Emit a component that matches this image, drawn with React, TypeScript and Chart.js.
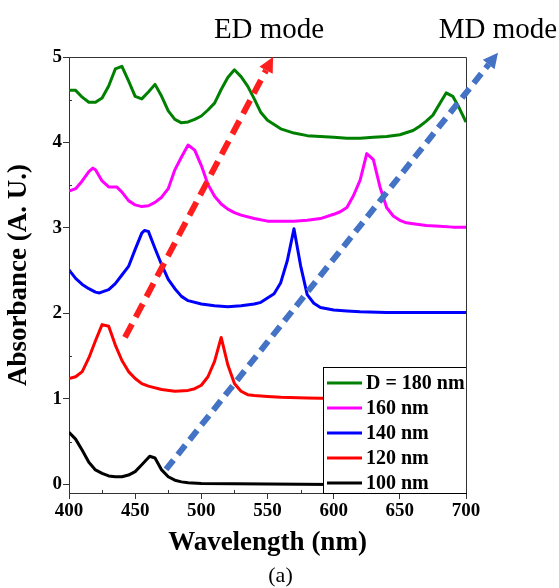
import React, { useEffect, useRef } from "react";
import { Chart, registerables } from "chart.js";

Chart.register(...registerables);

// ---- data ----
const W180 = [400, 405, 410, 415, 420, 425, 430, 435, 440, 445, 450, 455, 460, 465, 470, 475, 480, 485, 490, 495, 500, 505, 510, 515, 520, 525, 530, 535, 540, 545, 550, 555, 560, 570, 580, 590, 600, 610, 620, 630, 640, 650, 660, 665, 670, 675, 680, 685, 690, 695, 700];
const A180 = [4.61, 4.61, 4.53, 4.47, 4.47, 4.52, 4.66, 4.86, 4.89, 4.72, 4.54, 4.51, 4.59, 4.68, 4.54, 4.37, 4.27, 4.23, 4.24, 4.27, 4.31, 4.38, 4.46, 4.62, 4.76, 4.85, 4.77, 4.66, 4.51, 4.35, 4.26, 4.21, 4.16, 4.11, 4.08, 4.07, 4.06, 4.05, 4.05, 4.06, 4.07, 4.09, 4.14, 4.19, 4.25, 4.32, 4.45, 4.58, 4.54, 4.40, 4.24];

const W160 = [400, 405, 410, 415, 418, 420, 425, 430, 436, 440, 445, 450, 455, 460, 465, 470, 475, 480, 485, 490, 495, 500, 505, 510, 515, 520, 525, 530, 540, 550, 560, 570, 580, 590, 600, 605, 610, 615, 620, 625, 630, 635, 640, 645, 650, 655, 660, 670, 680, 690, 700];
const A160 = [3.43, 3.46, 3.55, 3.66, 3.70, 3.68, 3.55, 3.48, 3.48, 3.42, 3.32, 3.27, 3.25, 3.26, 3.30, 3.36, 3.46, 3.68, 3.83, 3.97, 3.91, 3.73, 3.51, 3.37, 3.28, 3.22, 3.18, 3.15, 3.11, 3.08, 3.08, 3.08, 3.09, 3.11, 3.16, 3.19, 3.24, 3.38, 3.56, 3.87, 3.80, 3.48, 3.24, 3.14, 3.09, 3.06, 3.05, 3.03, 3.02, 3.01, 3.01];

const W140 = [400, 405, 410, 415, 420, 423, 430, 435, 440, 445, 450, 455, 457, 460, 465, 470, 475, 480, 485, 490, 500, 510, 520, 530, 540, 545, 550, 555, 560, 565, 570, 575, 580, 585, 590, 600, 610, 620, 640, 670, 700];
const A140 = [2.51, 2.41, 2.34, 2.29, 2.25, 2.24, 2.28, 2.35, 2.45, 2.55, 2.75, 2.94, 2.97, 2.96, 2.76, 2.57, 2.40, 2.29, 2.20, 2.15, 2.11, 2.09, 2.08, 2.09, 2.11, 2.13, 2.18, 2.23, 2.36, 2.62, 2.99, 2.56, 2.22, 2.12, 2.07, 2.04, 2.03, 2.02, 2.01, 2.01, 2.01];

const W120 = [400, 405, 410, 415, 420, 425, 430, 435, 440, 445, 450, 455, 460, 470, 480, 490, 495, 500, 505, 510, 515, 520, 525, 530, 535, 540, 550, 560, 580, 620, 700];
const A120 = [1.24, 1.26, 1.32, 1.48, 1.68, 1.87, 1.85, 1.63, 1.45, 1.32, 1.24, 1.18, 1.15, 1.11, 1.09, 1.10, 1.12, 1.16, 1.26, 1.44, 1.72, 1.40, 1.18, 1.09, 1.05, 1.04, 1.03, 1.02, 1.01, 1.00, 1.00];

const W100 = [400, 405, 410, 415, 420, 425, 430, 435, 440, 445, 450, 455, 461, 465, 470, 475, 480, 485, 490, 500, 550, 600, 700];
const A100 = [0.61, 0.53, 0.40, 0.26, 0.17, 0.13, 0.10, 0.09, 0.09, 0.11, 0.15, 0.23, 0.33, 0.31, 0.17, 0.09, 0.05, 0.03, 0.02, 0.01, 0.005, 0.0, 0.0];

const SERIES_LABELS = ["D = 180 nm", "160 nm", "140 nm", "120 nm", "100 nm"];
const SERIES_COLORS = ["#008000", "#FF00FF", "#0000FF", "#FF0000", "#000000"];

// arrow annotations, in data units [wavelength, absorbance]
const ED_ARROW = [[442.3, 1.72], [554.2, 5.0]];
const MD_ARROW = [[473.3, 0.175], [724.2, 5.05]];
const ED_LABEL = "ED mode";
const MD_LABEL = "MD mode";
const PANEL_LABEL = "(a)";

const X_TITLE = "Wavelength (nm)";
const Y_TITLE = "Absorbance (A. U.)";

const SERIF = "'Liberation Serif', 'Times New Roman', serif";

const pts = (xs: number[], ys: number[]) => xs.map((x, i) => ({ x, y: ys[i] }));

const framePlugin = {
  id: "frame",
  afterDraw(chart: any) {
    const { ctx, chartArea: a, scales } = chart;
    ctx.save();
    // minor ticks, inside
    ctx.strokeStyle = "#333";
    ctx.lineWidth = 1;
    const xs = scales.x.ticks.map((t: any) => t.value);
    for (let i = 0; i < xs.length - 1; i++) {
      const px = Math.round(scales.x.getPixelForValue((xs[i] + xs[i + 1]) / 2)) + 0.5;
      ctx.beginPath();
      ctx.moveTo(px, a.bottom);
      ctx.lineTo(px, a.bottom - 3);
      ctx.stroke();
    }
    const ys = scales.y.ticks.map((t: any) => t.value);
    for (let i = 0; i < ys.length - 1; i++) {
      const py = Math.round(scales.y.getPixelForValue((ys[i] + ys[i + 1]) / 2)) + 0.5;
      ctx.beginPath();
      ctx.moveTo(a.left, py);
      ctx.lineTo(a.left + 3, py);
      ctx.stroke();
    }
    ctx.restore();
  },
};

function drawArrow(ctx: any, x0: number, y0: number, x1: number, y1: number, color: string, dash: number[], lw: number, headLen: number, headW: number) {
  const ang = Math.atan2(y1 - y0, x1 - x0);
  const bx = x1 - Math.cos(ang) * headLen;
  const by = y1 - Math.sin(ang) * headLen;
  ctx.save();
  ctx.strokeStyle = color;
  ctx.fillStyle = color;
  ctx.lineWidth = lw;
  ctx.setLineDash(dash);
  ctx.beginPath();
  ctx.moveTo(x0, y0);
  ctx.lineTo(bx, by);
  ctx.stroke();
  ctx.setLineDash([]);
  ctx.beginPath();
  ctx.moveTo(x1, y1);
  ctx.lineTo(bx + Math.sin(ang) * headW / 2, by - Math.cos(ang) * headW / 2);
  ctx.lineTo(bx - Math.sin(ang) * headW / 2, by + Math.cos(ang) * headW / 2);
  ctx.closePath();
  ctx.fill();
  ctx.restore();
}

const overlayPlugin = {
  id: "overlay",
  afterDraw(chart: any) {
    const { ctx, chartArea: a, scales } = chart;
    const px = (p: number[]) => [scales.x.getPixelForValue(p[0]), scales.y.getPixelForValue(p[1])];

    // legend (inside, bottom right, opaque)
    const lw = 143, lh = 126;
    const lx = a.right - lw, ly = a.bottom - lh;
    ctx.save();
    ctx.fillStyle = "#fff";
    ctx.fillRect(lx, ly, lw, lh);
    ctx.strokeStyle = "#000";
    ctx.lineWidth = 1;
    ctx.strokeRect(Math.round(lx) + 0.5, Math.round(ly) + 0.5, lw, lh);
    ctx.font = `bold 20px ${SERIF}`;
    ctx.textBaseline = "middle";
    ctx.textAlign = "left";
    chart.data.datasets.forEach((ds: any, i: number) => {
      const cy = ly + 16 + i * 25;
      ctx.strokeStyle = ds.borderColor;
      ctx.lineWidth = 3;
      ctx.beginPath();
      ctx.moveTo(lx + 4, cy);
      ctx.lineTo(lx + 39, cy);
      ctx.stroke();
      ctx.fillStyle = "#000";
      ctx.fillText(ds.label, lx + 43, cy + 1);
    });
    ctx.restore();

    // plot frame (top and right)
    ctx.save();
    ctx.strokeStyle = "#333";
    ctx.lineWidth = 1;
    ctx.beginPath();
    ctx.moveTo(a.left, Math.round(a.top) + 0.5);
    ctx.lineTo(Math.round(a.right) + 0.5, Math.round(a.top) + 0.5);
    ctx.lineTo(Math.round(a.right) + 0.5, a.bottom);
    ctx.stroke();
    ctx.restore();

    // arrows
    const [e0, e1] = [px(ED_ARROW[0]), px(ED_ARROW[1])];
    drawArrow(ctx, e0[0], e0[1], e1[0], e1[1], "#FF1E1E", [15, 8], 6, 15, 15);
    const [m0, m1] = [px(MD_ARROW[0]), px(MD_ARROW[1])];
    drawArrow(ctx, m0[0], m0[1], m1[0], m1[1], "#4472C4", [12, 7], 6, 15, 15);

    // annotation text
    ctx.save();
    ctx.fillStyle = "#000";
    ctx.font = `29px ${SERIF}`;
    ctx.textAlign = "center";
    ctx.textBaseline = "alphabetic";
    ctx.fillText(ED_LABEL, e1[0] - 4, a.top - 19);
    ctx.fillText(MD_LABEL, m1[0], a.top - 19);
    ctx.font = `22px ${SERIF}`;
    ctx.fillText(PANEL_LABEL, (a.left + a.right) / 2 + 13, chart.height - 6);
    ctx.restore();
  },
};

export default function App() {
  const ref = useRef<HTMLCanvasElement | null>(null);
  useEffect(() => {
    document.body.style.margin = "0";
    if (!ref.current) return;
    const series = [
      pts(W180, A180),
      pts(W160, A160),
      pts(W140, A140),
      pts(W120, A120),
      pts(W100, A100),
    ];
    const chart = new Chart(ref.current, {
      type: "line",
      data: {
        datasets: series.map((d, i) => ({
          label: SERIES_LABELS[i],
          data: d,
          borderColor: SERIES_COLORS[i],
          backgroundColor: SERIES_COLORS[i],
          borderWidth: 3,
          pointRadius: 0,
          tension: 0,
          fill: false,
          borderJoinStyle: "round" as const,
        })),
      },
      options: {
        responsive: false,
        animation: false,
        devicePixelRatio: 1,
        layout: { padding: { left: 0, right: 93, top: 57, bottom: 0 } },
        plugins: { legend: { display: false }, tooltip: { enabled: false }, title: { display: false } },
        scales: {
          x: {
            type: "linear",
            min: 400,
            max: 700,
            afterFit: (s: any) => { s.height = 95; },
            ticks: { stepSize: 50, color: "#000", padding: 1, maxRotation: 0, font: { family: SERIF, size: 19, weight: "bold" } },
            grid: { display: true, drawOnChartArea: false, drawTicks: true, tickLength: 6, color: "#333" },
            border: { display: true, color: "#333", width: 1 },
            title: { display: true, text: X_TITLE, color: "#000", font: { family: SERIF, size: 27, weight: "bold" }, padding: { top: 0, bottom: 28.8 } },
          },
          y: {
            type: "linear",
            min: -0.1,
            max: 5,
            afterFit: (s: any) => { s.width = 69; },
            afterBuildTicks: (s: any) => { s.ticks = s.ticks.filter((t: any) => Math.abs(t.value - Math.round(t.value)) < 1e-9); },
            ticks: { stepSize: 1, includeBounds: false, color: "#000", padding: 1, font: { family: SERIF, size: 19, weight: "bold" } },
            grid: { display: true, drawOnChartArea: false, drawTicks: true, tickLength: 6, color: "#333" },
            border: { display: true, color: "#333", width: 1 },
            title: { display: true, text: Y_TITLE, color: "#000", font: { family: SERIF, size: 27, weight: "bold" }, padding: { top: 2.8, bottom: 0 } },
          },
        },
      } as any,
      plugins: [framePlugin, overlayPlugin],
    });
    return () => chart.destroy();
  }, []);
  return (
    <div style={{ position: "absolute", left: 0, top: 0, width: 559, height: 588 }}>
      <canvas ref={ref} width={559} height={588} style={{ width: 559, height: 588 }} />
    </div>
  );
}
